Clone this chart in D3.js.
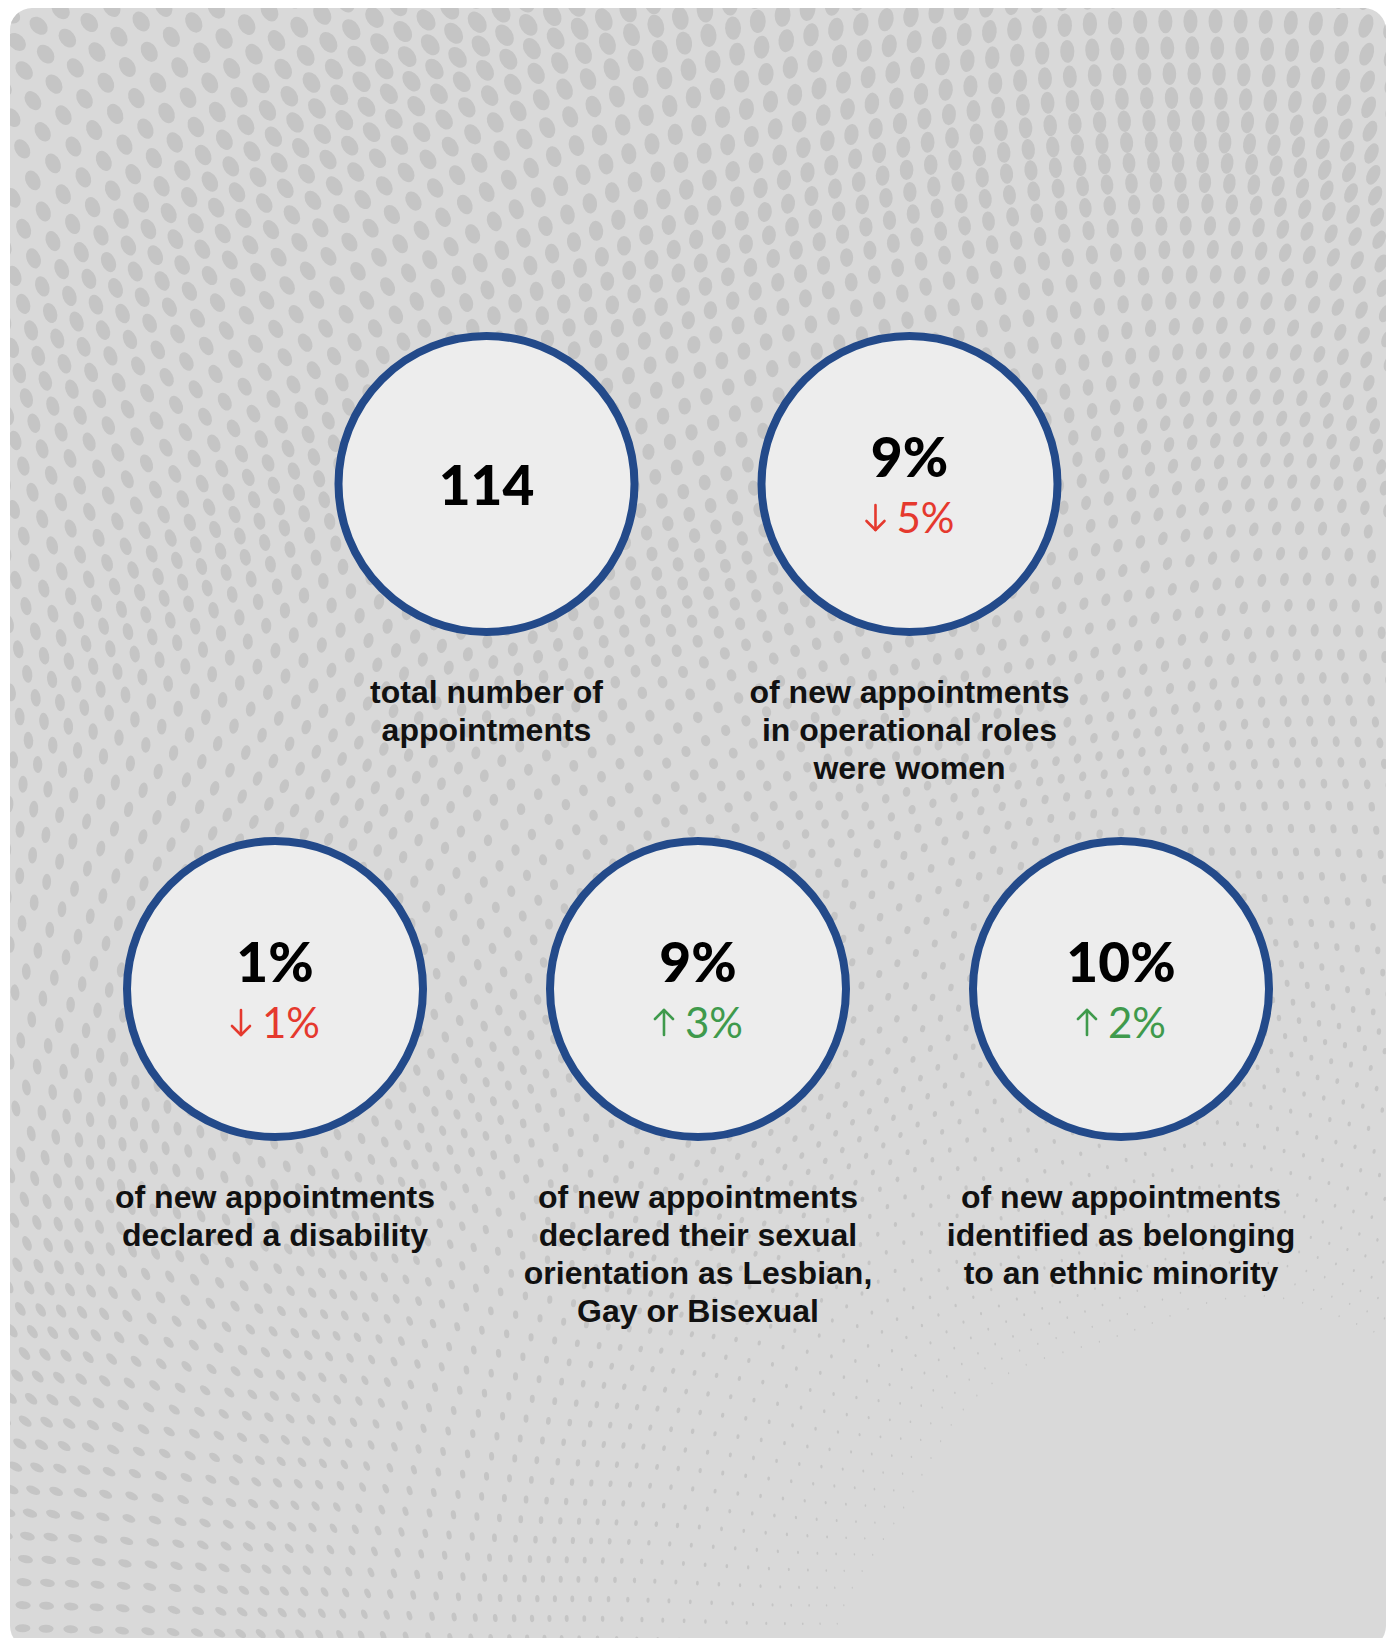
<!DOCTYPE html>
<html>
<head>
<meta charset="utf-8">
<script src="https://cdn.jsdelivr.net/npm/d3@7"></script>
<style>
  body { margin: 0; background: #ffffff; }
  svg { display: block; }
</style>
</head>
<body>
<div id="chart-area"></div>
<script>
const WIDTH = 1392
const HEIGHT = 1638

// values shown in the circles
const mainValues = ["114", "9%", "1%", "9%", "10%"]
const changeValues = [null, "5%", "1%", "3%", "2%"]
const changeDirs = [null, "down", "down", "up", "up"]
const rows = [0, 0, 1, 1, 1]
const cols = [0.5, 1.5, 0, 1, 2]
const labels = [
  ["total number of", "appointments"],
  ["of new appointments", "in operational roles", "were women"],
  ["of new appointments", "declared a disability"],
  ["of new appointments", "declared their sexual", "orientation as Lesbian,", "Gay or Bisexual"],
  ["of new appointments", "identified as belonging", "to an ethnic minority"]
]

const data = mainValues.map((v, i) => ({
  value: v,
  change: changeValues[i],
  dir: changeDirs[i],
  row: rows[i],
  col: cols[i],
  label: labels[i]
}))

const svg = d3.select("#chart-area").append("svg")
  .attr("width", WIDTH)
  .attr("height", HEIGHT)

// card
const CARD = { X: 10, Y: 8, W: 1376, H: 1640, R: 22 }
svg.append("clipPath").attr("id", "card-clip")
  .append("rect")
    .attr("x", CARD.X).attr("y", CARD.Y)
    .attr("width", CARD.W).attr("height", CARD.H)
    .attr("rx", CARD.R)

svg.append("rect")
  .attr("x", CARD.X).attr("y", CARD.Y)
  .attr("width", CARD.W).attr("height", CARD.H)
  .attr("rx", CARD.R)
  .attr("fill", "#d9d9d9")

// halftone background (decoration only): dots on arcs round the bottom right
const angTable = [[35, 80, 110], [105, 90, 95], [5, 100, 90]]
const elTable = [[1.35, 1.45, 1.8], [1.9, 1.2, 1.5], [1.9, 1.7, 1.5]]
const sizeTable = [[0.82, 1.0, 1.08], [0.85, 0.8, 0.9], [1, 1, 1]]
function bilerp(t, xn, yn) {
  const fx = Math.max(0, Math.min(1.999, xn * 2)), fy = Math.max(0, Math.min(1.999, yn * 2))
  const i = Math.floor(fy), j = Math.floor(fx)
  const u = fx - j, v = fy - i
  const top = t[i][j] * (1 - u) + t[i][j + 1] * u
  const bot = t[i + 1][j] * (1 - u) + t[i + 1][j + 1] * u
  return top * (1 - v) + bot * v
}
const C = [1250, 1720]
const dots = []
let rad = 140
while (rad < 2400) {
  const step = 17 + 4.8 * rad / 1000
  const aStep = step / rad
  const base = 12.5 * Math.pow(Math.max(0, Math.min(1, (rad - 320) / 1550)), 0.9)
  for (let th = -Math.PI; th < Math.PI; th += aStep) {
    const wob = 9 * Math.sin(th * 9 + rad / 140) + 5 * Math.sin(rad / 45)
    const px = C[0] + (rad + wob) * Math.cos(th)
    const py = C[1] + (rad + wob) * Math.sin(th)
    if (px < -20 || px > WIDTH + 20 || py < -20 || py > HEIGHT + 30) continue
    const xn = px / WIDTH, yn = py / HEIGHT
    const size = base * bilerp(sizeTable, xn, yn)
    if (size < 0.9) continue
    const ang = bilerp(angTable, xn, yn) + 12 * Math.sin(px / 110 + py / 160)
    const el = bilerp(elTable, xn, yn)
    dots.push({ x: px, y: py, rx: size, ry: size / el, ang })
  }
  rad += step
}
const bg = svg.append("g").attr("clip-path", "url(#card-clip)")
bg.selectAll("ellipse")
  .data(dots)
  .enter().append("ellipse")
    .attr("cx", d => d.x)
    .attr("cy", d => d.y)
    .attr("rx", d => d.rx)
    .attr("ry", d => d.ry)
    .attr("transform", d => `rotate(${d.ang}, ${d.x}, ${d.y})`)
    .attr("fill", "#c5c5c5")

// layout scales
const x = d3.scaleLinear().domain([0, 2]).range([275, 1121])
const y = d3.scaleLinear().domain([0, 1]).range([484, 989])
const R = 148

const g = svg.append("g")

const items = g.selectAll("g.item")
  .data(data)
  .enter().append("g")
    .attr("class", "item")
    .attr("transform", d => `translate(${x(d.col)}, ${y(d.row)})`)

items.append("circle")
  .attr("r", R)
  .attr("fill", "#ededed")
  .attr("stroke", "#234a8a")
  .attr("stroke-width", 8)

items.append("text")
  .attr("text-anchor", "middle")
  .attr("y", d => d.change ? -7 : 21)
  .attr("font-family", "Lato, 'Open Sans', sans-serif")
  .attr("font-weight", 900)
  .attr("font-size", "55px")
  .attr("fill", "#000")
  .text(d => d.value)

// change indicator: arrow + value, centred as one group
items.filter(d => d.change).each(function (d) {
  const sel = d3.select(this)
  const col = d.dir === "up" ? "#3f9a4c" : "#e5392e"
  const grp = sel.append("g")
  const t = grp.append("text")
    .attr("x", 0)
    .attr("y", 49)
    .attr("font-family", "Lato, 'Open Sans', sans-serif")
    .attr("font-weight", 400)
    .attr("font-size", "42px")
    .attr("fill", col)
    .text(d.change)
  const tw = t.node().getComputedTextLength()
  const aw = 22, gap = 10
  const total = aw + gap + tw
  const left = -total / 2
  t.attr("x", left + aw + gap)
  const ax = left + aw / 2
  const top = 21, bot = 46
  const arrow = grp.append("g")
    .attr("fill", "none")
    .attr("stroke", col)
    .attr("stroke-width", 2.6)
    .attr("stroke-linecap", "round")
    .attr("stroke-linejoin", "round")
  if (d.dir === "down") {
    arrow.append("path").attr("d", `M${ax},${top} L${ax},${bot}`)
    arrow.append("path").attr("d", `M${ax - 9},${bot - 9} L${ax},${bot} L${ax + 9},${bot - 9}`)
  } else {
    arrow.append("path").attr("d", `M${ax},${bot} L${ax},${top}`)
    arrow.append("path").attr("d", `M${ax - 9},${top + 9} L${ax},${top} L${ax + 9},${top + 9}`)
  }
})

// labels under each circle
items.append("text")
  .attr("text-anchor", "middle")
  .attr("font-family", "'Liberation Sans', Arial, sans-serif")
  .attr("font-weight", 700)
  .attr("font-size", "32px")
  .attr("fill", "#111")
  .selectAll("tspan")
  .data(d => d.label)
  .enter().append("tspan")
    .attr("x", 0)
    .attr("y", (d, i) => 219 + i * 38)
    .text(d => d)
</script>
</body>
</html>
